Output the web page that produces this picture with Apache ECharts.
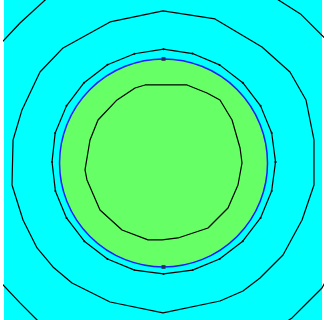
<!DOCTYPE html>
<html>
<head>
<meta charset="utf-8">
<style>
  html, body { margin: 0; padding: 0; background: #ffffff; }
  #chart { width: 324px; height: 320px; }
</style>
<script src="https://cdn.jsdelivr.net/npm/echarts@6/dist/echarts.min.js"></script>
</head>
<body>
<div id="chart"></div>
<script>
// Domain extent (disk radius = 1)
const xRange = [-1.534, 1.524];
const yRange = [-1.510, 1.567];

// Inclusion disk: centre and radius
const diskCenter = [0, 0];
const diskRadius = 1;

// Nodes marked on the disk boundary
const boundaryNodes = [[0, 1], [0, -1]];

// Contour level inside the inclusion
const contourInner = [
  [-0.178, 0.750], [0.226, 0.750], [0.418, 0.673], [0.543, 0.606], [0.659, 0.413],
  [0.736, 0.144], [0.755, 0.000], [0.716, -0.212], [0.620, -0.433], [0.428, -0.625],
  [0.139, -0.721], [-0.014, -0.740], [-0.149, -0.740], [-0.399, -0.644], [-0.611, -0.452],
  [-0.736, -0.163], [-0.755, -0.067], [-0.707, 0.221], [-0.630, 0.413], [-0.447, 0.606],
  [-0.274, 0.721], [-0.178, 0.750]
];

// Contour level just outside the interface
const contourNear = [
  [1.077, 0.010], [1.040, 0.289], [0.933, 0.549], [0.762, 0.772], [0.539, 0.943],
  [0.279, 1.052], [0.000, 1.094], [-0.279, 1.050], [-0.539, 0.945], [-0.764, 0.772],
  [-0.933, 0.549], [-1.042, 0.289], [-1.072, 0.010], [-1.040, -0.269], [-0.933, -0.529],
  [-0.762, -0.752], [-0.539, -0.923], [-0.279, -1.030], [0.000, -1.067], [0.279, -1.030],
  [0.539, -0.923], [0.762, -0.752], [0.933, -0.529], [1.040, -0.269], [1.077, 0.010]
];

// Middle contour level
const contourMid = [
  [-1.361, 0.510], [-1.188, 0.875], [-0.966, 1.106], [-0.514, 1.356], [-0.005, 1.462],
  [0.495, 1.385], [0.947, 1.115], [1.216, 0.875], [1.370, 0.606], [1.447, 0.221],
  [1.447, -0.212], [1.332, -0.548], [1.149, -0.885], [0.928, -1.106], [0.764, -1.231],
  [0.543, -1.327], [-0.005, -1.442], [-0.514, -1.337], [-0.880, -1.154], [-1.063, -1.000],
  [-1.216, -0.817], [-1.351, -0.548], [-1.457, -0.212], [-1.447, 0.221], [-1.361, 0.510]
];

// Outer contour level (only the corners fall inside the domain)
const contourOuter = [
  [-1.543, 1.173], [-1.380, 1.346], [-1.139, 1.567], [-0.851, 1.740], [-0.005, 1.923],
  [0.832, 1.740], [1.317, 1.433], [1.548, 1.202], [1.745, 0.798], [1.923, 0.010],
  [1.745, -0.798], [1.524, -1.202], [1.389, -1.337], [1.236, -1.490], [0.832, -1.750],
  [-0.005, -1.913], [-0.851, -1.750], [-1.216, -1.510], [-1.380, -1.346], [-1.543, -1.173],
  [-1.764, -0.788], [-1.923, 0.010], [-1.764, 0.798], [-1.543, 1.173]
];

const chart = echarts.init(document.getElementById('chart'), null, { renderer: 'canvas' });

function contourSeries(data, withNodes) {
  return {
    type: 'line',
    data: data,
    z: 3,
    clip: true,
    smooth: false,
    showSymbol: withNodes,
    symbol: 'circle',
    symbolSize: 2,
    itemStyle: { color: '#000000' },
    lineStyle: { color: '#000000', width: 1.2 },
    emphasis: { disabled: true },
    silent: true
  };
}

chart.setOption({
  animation: false,
  grid: {
    left: 4, right: 2, top: 0, bottom: 0,
    show: true,
    backgroundColor: '#00ffff',
    borderWidth: 0
  },
  xAxis: { type: 'value', min: xRange[0], max: xRange[1], show: false },
  yAxis: { type: 'value', min: yRange[0], max: yRange[1], show: false },
  series: [
    {
      type: 'custom',
      z: 1,
      silent: true,
      data: [[diskCenter[0], diskCenter[1], diskRadius]],
      renderItem: function (params, api) {
        const c = api.coord([api.value(0), api.value(1)]);
        const s = api.size([api.value(2), api.value(2)]);
        return {
          type: 'circle',
          shape: { cx: c[0], cy: c[1], r: s[0] },
          style: { fill: '#66ff66', stroke: '#1a1aff', lineWidth: 1.5 }
        };
      }
    },
    contourSeries(contourInner, false),
    contourSeries(contourNear, true),
    contourSeries(contourMid, false),
    contourSeries(contourOuter, false),
    {
      type: 'scatter',
      z: 5,
      silent: true,
      data: boundaryNodes,
      symbol: 'rect',
      symbolSize: 4,
      itemStyle: { color: '#202050' }
    }
  ]
});
</script>
</body>
</html>
